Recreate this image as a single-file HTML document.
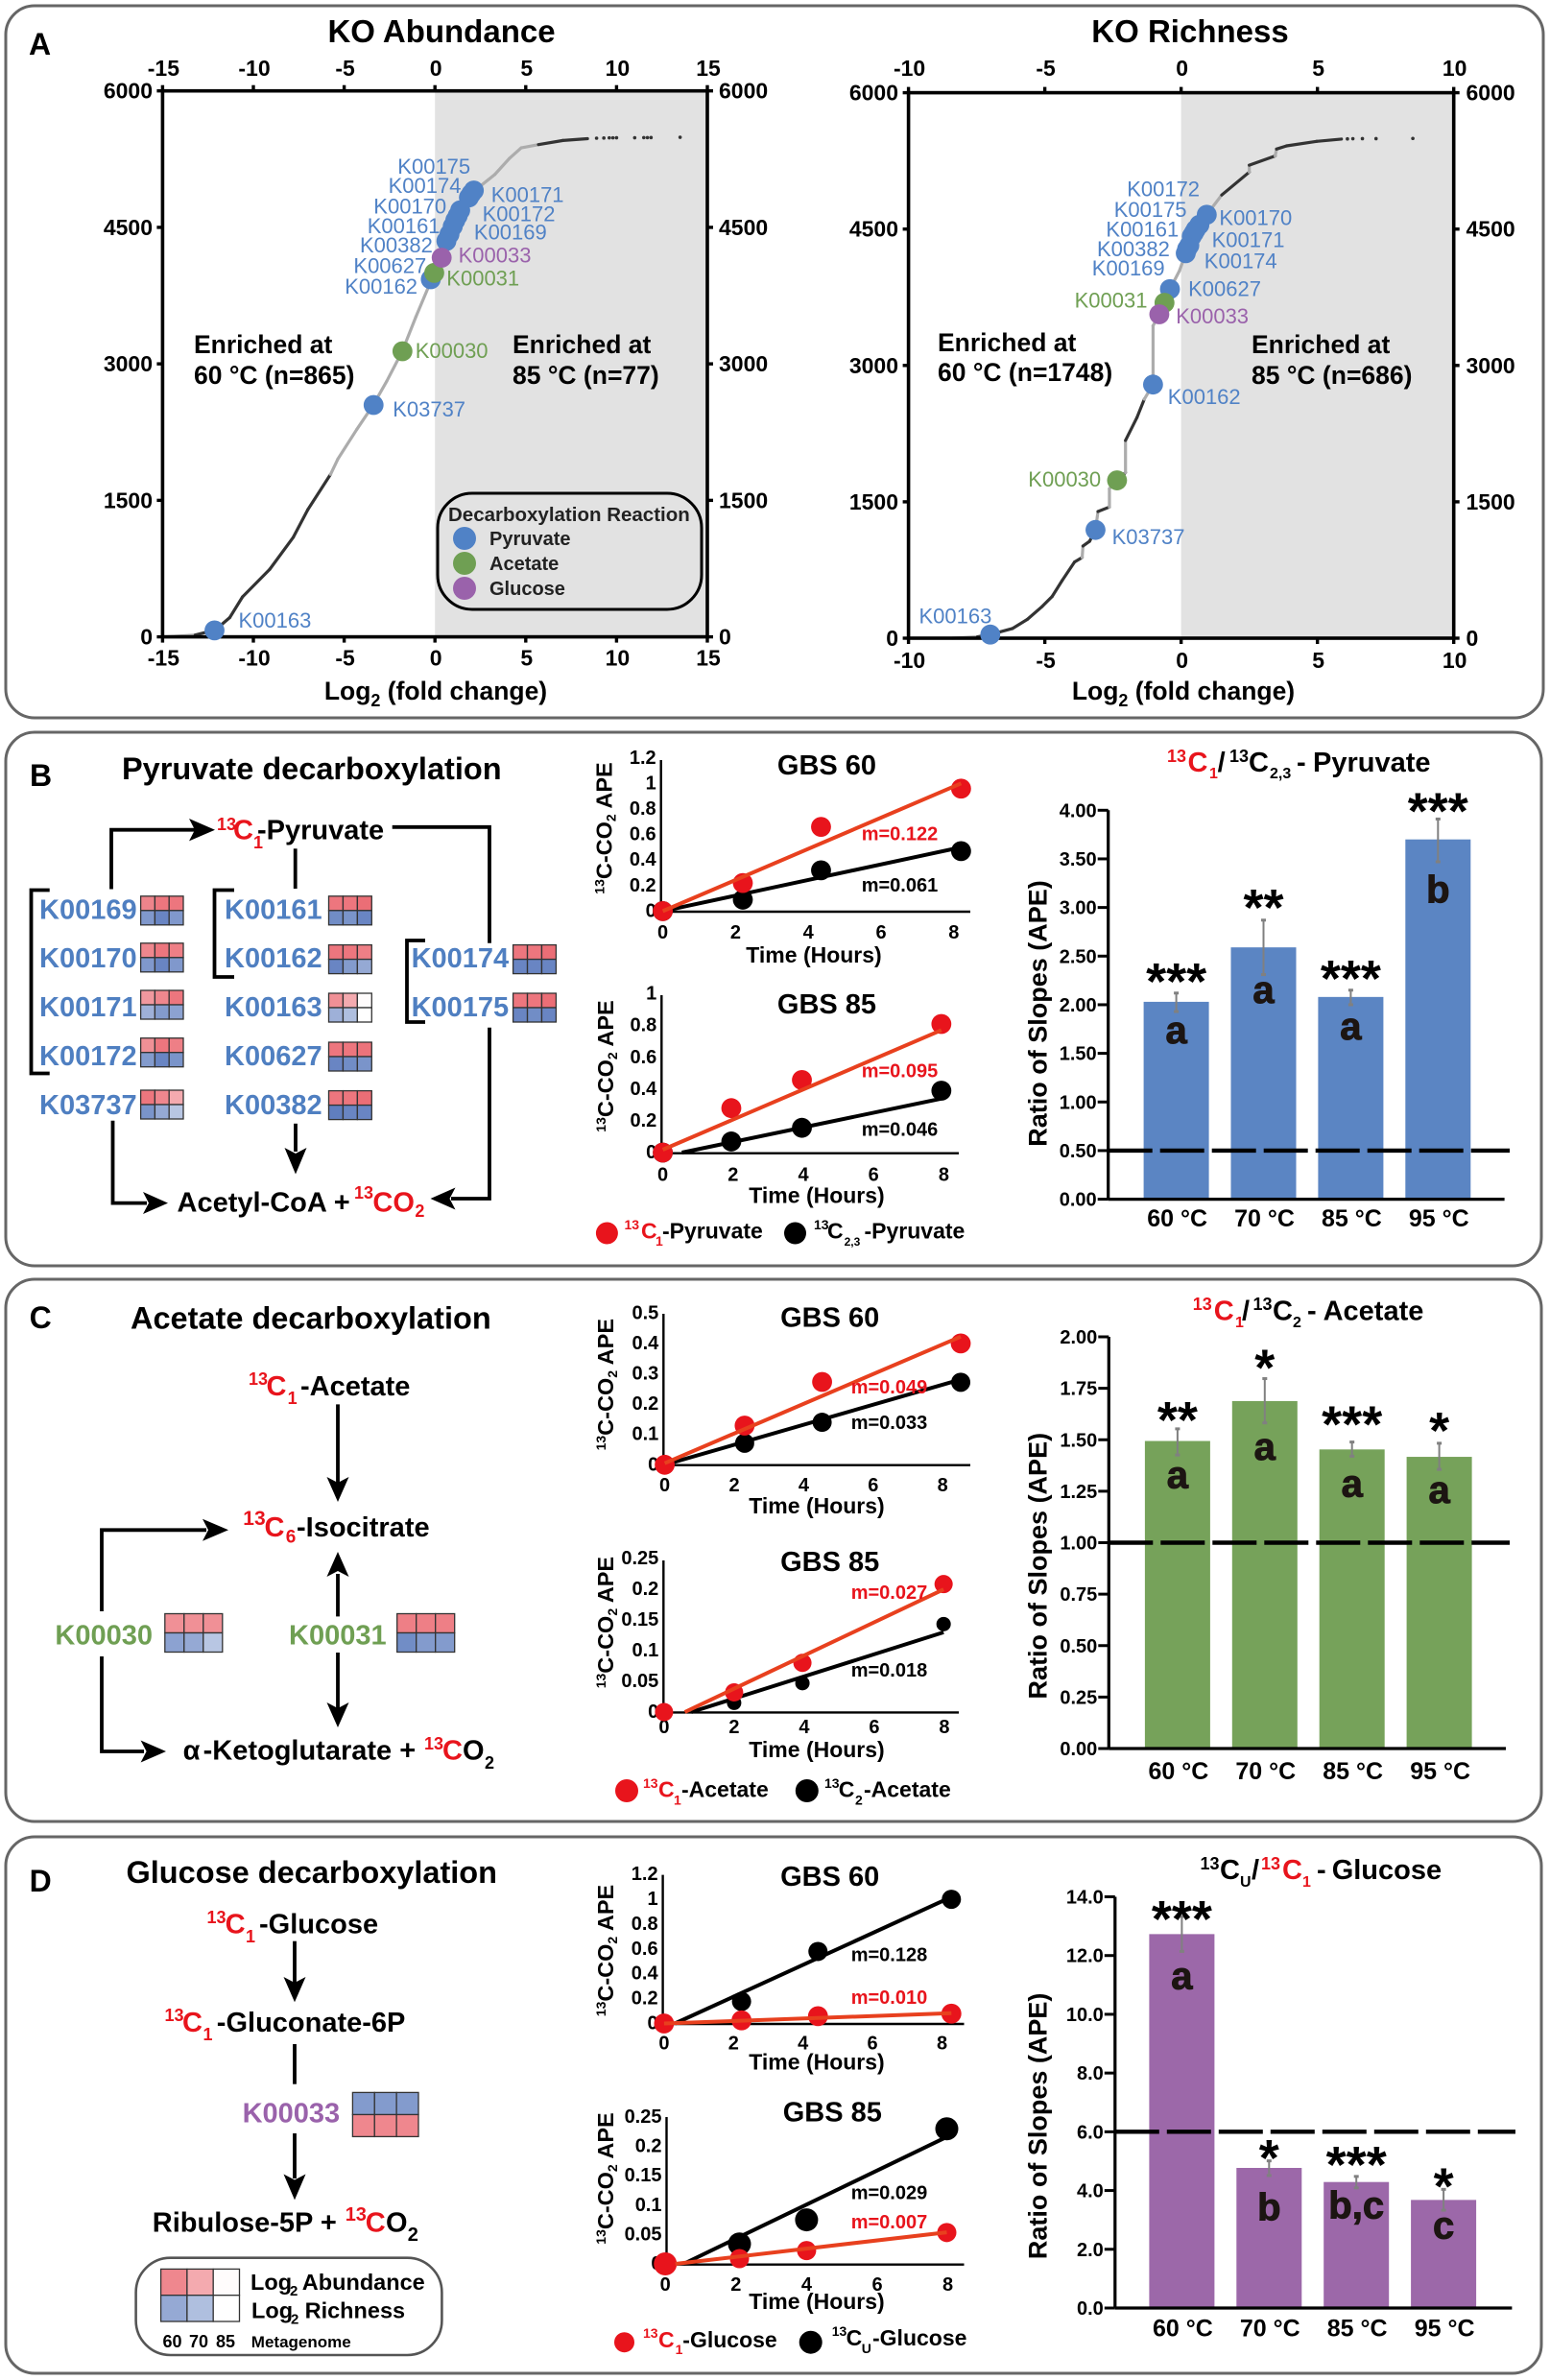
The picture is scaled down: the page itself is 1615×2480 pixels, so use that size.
<!DOCTYPE html>
<html lang="en">
<head>
<meta charset="utf-8">
<title>Decarboxylation KO enrichment and isotope ratios</title>
<style>
html,body{margin:0;padding:0;background:#fff}
svg{display:block;font-family:"Liberation Sans",sans-serif}
.frame{fill:none;stroke:#666;stroke-width:3}
.b{font-weight:bold}
.pw{fill:none;stroke:#000;stroke-width:3.8}
.gene-b{font-weight:bold;font-size:29px;fill:#4f7fc1}
.gene-g{font-weight:bold;font-size:29px;fill:#6f9f53}
.gene-p{font-weight:bold;font-size:29px;fill:#9a62ab}
.r{fill:#e8141c}
</style>
</head>
<body>
<svg id="root" width="1615" height="2480" viewBox="0 0 1615 2480">
<rect width="1615" height="2480" fill="#fff"/>

<g>
<rect class="frame" x="6" y="6" width="1602" height="742" rx="30"/>
<text class="b" x="30" y="57" font-size="32">A</text>
<g id="plots-a"></g>
</g>

<g>
<rect class="frame" x="6" y="763" width="1600" height="556" rx="30"/>
<text class="b" x="31" y="819" font-size="32">B</text>
<text class="b" x="127" y="812" font-size="32.5">Pyruvate decarboxylation</text>
<text class="b" font-size="29"><tspan class="r" x="226" y="865" font-size="18">13</tspan><tspan class="r" x="243" y="874.5">C</tspan><tspan class="r" x="264" y="884" font-size="18">1</tspan><tspan x="268" y="874.5">-Pyruvate</tspan></text>
<path class="pw" d="M116 926.5V864.7H205"/>
<polygon points="224,864.7 197,853 203,864.7 197,876.4"/>
<path class="pw" d="M307.7 884.3V926"/>
<path class="pw" d="M408.7 861.8H510V982.8"/>
<path class="pw" d="M510 1070.8V1249H470"/>
<polygon points="448.5,1249 474.5,1237.5 468.5,1249 474.5,1260.5"/>
<path class="pw" d="M117.5 1167.8V1253.6H153"/>
<polygon points="175,1253.6 149,1242 155,1253.6 149,1265"/>
<path class="pw" d="M308 1170.8V1200"/>
<polygon points="308,1223.5 296.5,1196 308,1202 319.5,1196"/>
<path class="pw" d="M51.7 927.5H32.5V1118.5H51.7"/>
<path class="pw" d="M244 927.5H223.5V1018H244"/>
<path class="pw" stroke-width="3" d="M443 980H424V1065H443"/>
<text class="gene-b" x="41" y="957.4">K00169</text>
<text class="gene-b" x="41" y="1008">K00170</text>
<text class="gene-b" x="41" y="1059">K00171</text>
<text class="gene-b" x="41" y="1110">K00172</text>
<text class="gene-b" x="41" y="1161">K03737</text>
<text class="gene-b" x="234" y="957.4">K00161</text>
<text class="gene-b" x="234" y="1008">K00162</text>
<text class="gene-b" x="234" y="1059">K00163</text>
<text class="gene-b" x="234" y="1110">K00627</text>
<text class="gene-b" x="234" y="1161">K00382</text>
<text class="gene-b" x="428.6" y="1008">K00174</text>
<text class="gene-b" x="428.6" y="1059">K00175</text>
<text class="b" font-size="29"><tspan x="184.5" y="1262.4">Acetyl-CoA +</tspan><tspan class="r" x="369" y="1249" font-size="18">13</tspan><tspan class="r" x="388.4" y="1262.4">CO</tspan><tspan class="r" x="432.4" y="1268" font-size="18">2</tspan></text>
<g>
<circle class="r" cx="632.4" cy="1285" r="11.5"/>
<text class="b" font-size="23"><tspan class="r" x="650.5" y="1281" font-size="14">13</tspan><tspan class="r" x="668" y="1290.7">C</tspan><tspan class="r" x="683" y="1298" font-size="14">1</tspan><tspan x="690" y="1290.7">-Pyruvate</tspan></text>
<circle cx="828.5" cy="1285" r="11.5"/>
<text class="b" font-size="23"><tspan x="848" y="1281" font-size="14">13</tspan><tspan x="862" y="1290.7">C</tspan><tspan x="879.6" y="1298" font-size="12">2,3</tspan><tspan x="900.5" y="1290.7">-Pyruvate</tspan></text>
</g>
<text class="b" font-size="29"><tspan class="r" x="1216" y="794" font-size="18">13</tspan><tspan class="r" x="1237.5" y="804">C</tspan><tspan class="r" x="1260" y="811" font-size="16">1</tspan><tspan x="1268.6" y="804">/</tspan><tspan x="1281" y="794" font-size="18">13</tspan><tspan x="1301" y="804">C</tspan><tspan x="1323" y="811" font-size="16">2,3</tspan><tspan x="1351" y="804">-</tspan><tspan x="1368" y="804">Pyruvate</tspan></text>
</g>

<g>
<rect class="frame" x="6" y="1333" width="1600" height="565" rx="30"/>
<text class="b" x="30.6" y="1384" font-size="32">C</text>
<text class="b" x="136" y="1384.5" font-size="32.5">Acetate decarboxylation</text>
<text class="b" font-size="29"><tspan class="r" x="259" y="1443" font-size="18">13</tspan><tspan class="r" x="277.5" y="1454">C</tspan><tspan class="r" x="299.6" y="1463" font-size="18">1</tspan><tspan x="313" y="1454">-Acetate</tspan></text>
<path class="pw" d="M352 1463.4V1545"/>
<polygon points="352,1565 340.5,1539 352,1545 363.5,1539"/>
<text class="b" font-size="29"><tspan class="r" x="253.3" y="1589" font-size="21">13</tspan><tspan class="r" x="275.5" y="1600.8">C</tspan><tspan class="r" x="297.7" y="1607.5" font-size="19">6</tspan><tspan x="309" y="1600.8">-Isocitrate</tspan></text>
<path class="pw" d="M106 1679V1594.3H215"/>
<polygon points="238,1594.3 211,1582.8 217,1594.3 211,1605.8"/>
<path class="pw" d="M352 1684.4V1640"/>
<polygon points="352,1617 340.5,1643 352,1637 363.5,1643"/>
<path class="pw" d="M106 1726V1825H150"/>
<polygon points="173,1825 146.6,1813.5 152.6,1825 146.6,1836.5"/>
<path class="pw" d="M352 1722V1780"/>
<polygon points="352,1800 340.5,1774 352,1780 363.5,1774"/>
<text class="gene-g" x="57.4" y="1713.5">K00030</text>
<text class="gene-g" x="301" y="1713.5">K00031</text>
<text class="b" font-size="29"><tspan x="190.6" y="1833.5">α</tspan><tspan x="211.6" y="1833.5">-Ketoglutarate +</tspan><tspan class="r" x="442" y="1823" font-size="18">13</tspan><tspan class="r" x="461" y="1833.5">C</tspan><tspan x="482" y="1833.5">O</tspan><tspan x="505" y="1843" font-size="18">2</tspan></text>
<g>
<circle class="r" cx="653" cy="1866" r="12"/>
<text class="b" font-size="23"><tspan class="r" x="670" y="1863" font-size="14">13</tspan><tspan class="r" x="686" y="1872.7">C</tspan><tspan class="r" x="702" y="1880.7" font-size="14">1</tspan><tspan x="710" y="1872.7">-Acetate</tspan></text>
<circle cx="840.8" cy="1866" r="12"/>
<text class="b" font-size="23"><tspan x="859" y="1863" font-size="14">13</tspan><tspan x="873.8" y="1872.7">C</tspan><tspan x="891" y="1880.7" font-size="14">2</tspan><tspan x="900" y="1872.7">-Acetate</tspan></text>
</g>
<text class="b" font-size="29"><tspan class="r" x="1242.7" y="1365" font-size="18">13</tspan><tspan class="r" x="1264.7" y="1375.5">C</tspan><tspan class="r" x="1287" y="1383" font-size="16">1</tspan><tspan x="1294" y="1375.5">/</tspan><tspan x="1305.5" y="1365" font-size="18">13</tspan><tspan x="1326" y="1375.5">C</tspan><tspan x="1347" y="1383" font-size="16">2</tspan><tspan x="1362" y="1375.5">-</tspan><tspan x="1378.6" y="1375.5">Acetate</tspan></text>
</g>

<g>
<rect class="frame" x="6" y="1914" width="1600" height="559" rx="30"/>
<text class="b" x="30.6" y="1971" font-size="32">D</text>
<text class="b" x="131.5" y="1962" font-size="32.5">Glucose decarboxylation</text>
<text class="b" font-size="29"><tspan class="r" x="215.5" y="2004" font-size="18">13</tspan><tspan class="r" x="234.6" y="2014.7">C</tspan><tspan class="r" x="256" y="2024" font-size="18">1</tspan><tspan x="270" y="2014.7">-Glucose</tspan></text>
<path class="pw" d="M307 2022.7V2066"/>
<polygon points="307,2086.3 295.5,2060 307,2066 318.5,2060"/>
<text class="b" font-size="29"><tspan class="r" x="171.5" y="2106" font-size="18">13</tspan><tspan class="r" x="190" y="2117">C</tspan><tspan class="r" x="211.5" y="2126" font-size="18">1</tspan><tspan x="225.8" y="2117">-Gluconate-6P</tspan></text>
<path class="pw" d="M307 2130V2171.7"/>
<text class="gene-p" x="252.6" y="2211.7">K00033</text>
<path class="pw" d="M307 2223V2270"/>
<polygon points="307,2292.4 295.5,2265.5 307,2271.5 318.5,2265.5"/>
<text class="b" font-size="29"><tspan x="158.8" y="2325.5">Ribulose-5P +</tspan><tspan class="r" x="359.7" y="2314" font-size="20">13</tspan><tspan class="r" x="380.8" y="2325.5">C</tspan><tspan x="402" y="2325.5">O</tspan><tspan x="424.8" y="2335" font-size="20">2</tspan></text>
<rect x="141.6" y="2352.7" width="318.8" height="101.3" rx="36" fill="none" stroke="#555" stroke-width="2.6"/>
<text class="b" font-size="23.5"><tspan x="261" y="2386">Log</tspan><tspan x="302" y="2392" font-size="15">2</tspan><tspan x="314.8" y="2386">Abundance</tspan></text>
<text class="b" font-size="23.5"><tspan x="262" y="2415.3">Log</tspan><tspan x="303" y="2421.5" font-size="15">2</tspan><tspan x="317.6" y="2415.3">Richness</tspan></text>
<text class="b" x="169.5" y="2446" font-size="18">60</text>
<text class="b" x="197" y="2446" font-size="18">70</text>
<text class="b" x="225" y="2446" font-size="18">85</text>
<text class="b" x="261.8" y="2446" font-size="17">Metagenome</text>
<g>
<circle class="r" cx="650.5" cy="2440.7" r="10.5"/>
<text class="b" font-size="23"><tspan class="r" x="670" y="2436" font-size="14">13</tspan><tspan class="r" x="686" y="2446">C</tspan><tspan class="r" x="703.6" y="2453" font-size="14">1</tspan><tspan x="711.3" y="2446">-Glucose</tspan></text>
<circle cx="844.7" cy="2440.7" r="12"/>
<text class="b" font-size="23"><tspan x="866.7" y="2434" font-size="14">13</tspan><tspan x="881.6" y="2444">C</tspan><tspan x="897.7" y="2452" font-size="14">U</tspan><tspan x="909" y="2444">-Glucose</tspan></text>
</g>
<text class="b" font-size="29"><tspan x="1250.5" y="1948" font-size="18">13</tspan><tspan x="1271" y="1958">C</tspan><tspan x="1292" y="1966" font-size="16">U</tspan><tspan x="1304" y="1958">/</tspan><tspan class="r" x="1314" y="1948" font-size="18">13</tspan><tspan class="r" x="1336" y="1958">C</tspan><tspan class="r" x="1357" y="1966" font-size="16">1</tspan><tspan x="1372" y="1958">-</tspan><tspan x="1387.7" y="1958">Glucose</tspan></text>
</g>

<g id="tiles"></g>
<g id="time-charts"></g>
<g id="bar-charts"></g>
</svg>

<script>
// ---------- KO rank curves (panel A) ----------
const abundanceFold = [-14.8,-13.2,-12.1,-11.3,-10.6,-9.1,-7.8,-7.0,-5.75,-5.35,-4.3,-3.4,-2.65,-1.8,-1.05,-0.2,0.85,1.65,2.2,3.3,4.1,4.75,5.7,7.05,8.4];
const abundanceRank = [0,20,75,212,439,742,1095,1398,1786,1953,2281,2548,2811,3139,3517,3921,4425,4779,4905,5082,5258,5374,5410,5455,5475];
const abundanceSignificant = [0,1,1,1,1,1,1,1,0,0,0,0,0,0,0,0,0,0,0,0,0,0,1,1];
const abundanceTailFold = [8.9,9.3,9.6,9.8,10,11,11.5,11.7,11.9,13.5];
const abundanceTailRank = [5480,5482,5484,5484,5485,5485,5486,5486,5487,5490];
const abundanceKoIds = ['K00163','K03737','K00162','K00627','K00382','K00161','K00170','K00169','K00172','K00174','K00175','K00171','K00030','K00031','K00033'];
const abundanceKoFold = [-12.14,-3.38,-0.23,0.63,0.8,0.98,1.12,1.25,1.39,1.87,2.0,2.14,-1.79,-0.04,0.37];
const abundanceKoRank = [71,2548,3930,4350,4425,4511,4577,4627,4688,4829,4870,4905,3139,4000,4167];

const richnessFold = [-8.39,-7.47,-7.0,-6.19,-5.64,-5.1,-4.73,-4.36,-3.91,-3.63,-3.6,-3.36,-3.14,-3.05,-2.63,-2.63,-2.35,-2.04,-2.04,-1.62,-1.35,-1.03,-1.03,-0.8,-0.61,-0.41,-0.06,0.17,0.58,0.94,1.49,2.5,2.5,3.45,3.5,3.87,4.97,5.88];
const richnessRank = [0,15,40,106,207,348,459,636,838,888,1014,1065,1191,1393,1443,1645,1736,1822,2175,2427,2629,2790,3436,3563,3689,3840,4042,4234,4471,4658,4875,5127,5203,5304,5380,5415,5465,5490];
const richnessSignificant = [0,1,1,1,1,1,1,1,1,0,1,1,0,1,0,0,1,0,1,1,0,0,0,0,0,0,0,0,0,0,1,0,1,0,1,1,1];
const richnessTailFold = [6.1,6.3,6.65,7.15,8.5];
const richnessTailRank = [5492,5494,5495,5495,5497];
const richnessKoIds = ['K00163','K03737','K00162','K00627','K00169','K00382','K00174','K00161','K00171','K00175','K00172','K00170','K00030','K00031','K00033'];
const richnessKoFold = [-7.0,-3.14,-1.03,-0.41,0.17,0.22,0.3,0.39,0.47,0.54,0.67,0.94,-2.35,-0.61,-0.8];
const richnessKoRank = [40,1191,2790,3840,4234,4280,4320,4420,4460,4496,4547,4658,1736,3689,3563];

const abundanceXTicks = [-15,-10,-5,0,5,10,15];
const richnessXTicks = [-10,-5,0,5,10];
const rankTicks = [0,1500,3000,4500,6000];
const pathwayKinds = ['Pyruvate','Acetate','Glucose'];

// ---------- Gene heat tiles ----------
const tileGeneIds = ['K00169','K00170','K00171','K00172','K03737','K00161','K00162','K00163','K00627','K00382','K00174','K00175','K00030','K00031','K00033','key'];
const tileAbundance = [[.72,.8,.8],[.7,.8,.75],[.6,.7,.8],[.65,.8,.75],[.8,.7,.5],[.8,.8,.85],[.8,.8,.75],[.65,.5,.02],[.8,.8,.82],[.8,.8,.85],[.8,.8,.85],[.8,.8,.85],[.65,.65,.65],[.75,.75,.75],[.7,.7,.7],[.7,.5,.02]];
const tileRichness = [[.72,.85,.72],[.72,.85,.72],[.55,.7,.65],[.7,.85,.75],[.75,.6,.4],[.8,.75,.85],[.85,.7,.6],[.55,.45,0],[.85,.8,.75],[.9,.85,.85],[.85,.85,.85],[.85,.8,.85],[.65,.6,.4],[.8,.7,.7],[.7,.7,.7],[.6,.45,0]];

// ---------- Time courses ----------
const timeLabelsEven = ['0','2','4','6','8'];
const timeTicks = [0,2,4,6,8];
const apeTicks12 = [0,.2,.4,.6,.8,1,1.2];
const apeLabels12 = ['0','0.2','0.4','0.6','0.8','1','1.2'];
const apeTicks10 = [0,.2,.4,.6,.8,1];
const apeLabels10 = ['0','0.2','0.4','0.6','0.8','1'];
const apeTicks05 = [0,.1,.2,.3,.4,.5];
const apeLabels05 = ['0','0.1','0.2','0.3','0.4','0.5'];
const apeTicks025 = [0,.05,.1,.15,.2,.25];
const apeLabels025 = ['0','0.05','0.1','0.15','0.2','0.25'];

const pyr60Time = [0,2.2,4.35,8.2];
const pyr60Red = [0,.22,.66,.96];
const pyr60Black = [0,.09,.32,.47];
const pyr85Time = [0,1.95,3.96,7.93];
const pyr85Red = [0,.28,.457,.81];
const pyr85Black = [0,.07,.156,.39];
const ace60Time = [0,2.3,4.53,8.52];
const ace60Red = [0,.129,.273,.4];
const ace60Black = [0,.071,.14,.272];
const ace85Time = [0,2,3.95,7.98];
const ace85Red = [0,.032,.08,.208];
const ace85Black = [0,.015,.047,.143];
const glu60Time = [0,2.23,4.43,8.27];
const glu60Red = [0,.025,.059,.079];
const glu60Black = [0,.177,.58,1.0];
const glu85Time = [0,2.1,4,7.97];
const glu85Red = [0,.009,.0226,.0534];
const glu85Black = [0,.034,.075,.23];

const slopesRed = [.122,.095,.049,.027,.010,.007];
const slopesBlack = [.061,.046,.033,.018,.128,.029];
const interceptsRed = [0,.018,.005,-.016,0,-.002];
const interceptsBlack = [0,-.025,0,-.014,-.04,-.015];

// ---------- Slope-ratio bars ----------
const temperatures = ['60 °C','70 °C','85 °C','95 °C'];
const pyruvateRatio = [2.03,2.59,2.08,3.7];
const pyruvateErrHigh = [2.12,2.87,2.15,3.91];
const pyruvateErrLow = [1.93,2.31,2.0,3.47];
const pyruvateStars = ['***','**','***','***'];
const pyruvateLetters = ['a','a','a','b'];
const pyruvateTicks = [0,.5,1,1.5,2,2.5,3,3.5,4];
const pyruvateTickLabels = ['0.00','0.50','1.00','1.50','2.00','2.50','3.00','3.50','4.00'];
const acetateRatio = [1.494,1.688,1.453,1.417];
const acetateErrHigh = [1.553,1.797,1.489,1.483];
const acetateErrLow = [1.426,1.582,1.42,1.356];
const acetateStars = ['**','*','***','*'];
const acetateLetters = ['a','a','a','a'];
const acetateTicks = [0,.25,.5,.75,1,1.25,1.5,1.75,2];
const acetateTickLabels = ['0.00','0.25','0.50','0.75','1.00','1.25','1.50','1.75','2.00'];
const glucoseRatio = [12.73,4.77,4.29,3.68];
const glucoseErrHigh = [13.33,5.01,4.48,4.04];
const glucoseErrLow = [12.14,4.51,4.09,3.33];
const glucoseStars = ['***','*','***','*'];
const glucoseLetters = ['a','b','b,c','c'];
const glucoseTicks = [0,2,4,6,8,10,12,14];
const glucoseTickLabels = ['0.0','2.0','4.0','6.0','8.0','10.0','12.0','14.0'];

// ---------- Layout (pixels, separate from the data) ----------
const root = document.getElementById('root');
const NS = root.namespaceURI;
const KO_BLUE = '#5082c6', KO_GREEN = '#6f9f53', KO_PURPLE = '#9a62ab';

function mk(tag, parent, attrs, text) {
  const n = document.createElementNS(NS, tag);
  for (const k in attrs) n.setAttribute(k, attrs[k]);
  if (text !== undefined) n.textContent = text;
  parent.appendChild(n);
  return n;
}
function linear(d0, d1, r0, r1) {
  return v => r0 + (v - d0) * (r1 - r0) / (d1 - d0);
}
function kindColor(id) {
  if (id === 'K00030' || id === 'K00031') return KO_GREEN;
  if (id === 'K00033') return KO_PURPLE;
  return KO_BLUE;
}

const abundanceLabelPos = {K00175:[414.3,180.8],K00174:[404.6,200.9],K00170:[389.3,222.4],K00161:[382.7,243],K00382:[375,263],K00627:[368.4,284.6],K00162:[359.2,306],K00171:[511.7,210.5],K00172:[502.6,230.5],K00169:[493.9,249.7],K00033:[477.6,273.6],K00031:[465.3,297.5],K00030:[432.7,373],K03737:[409.2,433.8],K00163:[248.5,653.8]};
const richnessLabelPos = {K00172:[1174.2,204.7],K00175:[1160.7,225.8],K00161:[1152.4,246.3],K00382:[1143,266.9],K00169:[1137.8,287],K00170:[1270.4,234.4],K00171:[1262.6,257.3],K00174:[1254.8,279.3],K00627:[1238.1,308.5],K00031:[1119.6,320.5],K00033:[1225.2,337.2],K00162:[1216.8,420.9],K00030:[1071.3,507],K03737:[1158.6,566.8],K00163:[957.5,649.5]};

function drawRankPlot(c) {
  const g = mk('g', document.getElementById('plots-a'), {});
  
  
  const sx = linear(c.xMin, c.xMax, c.left, c.right);
  const sy = linear(0, 6000, c.bottom, c.top);
  let el;

  el = mk('rect', g, {x: sx(0), y: c.top, width: c.right - sx(0), height: c.bottom - c.top, fill: '#e2e2e2'});
  
  

  el = mk('text', g, {x: c.titleX, y: 44, 'font-size': 33, 'font-weight': 'bold', 'text-anchor': 'middle'}, c.title);
  
  

  for (let i = 0; i < c.fold.length - 1; i++) {
    el = mk('line', g, {x1: sx(c.fold[i]), y1: sy(c.rank[i]), x2: sx(c.fold[i+1]), y2: sy(c.rank[i+1]), stroke: c.sig[i] ? '#333' : '#acacac', 'stroke-width': 3.2, 'stroke-linecap': 'round'});
    
    
  }
  c.tailFold.forEach((f, i) => {
    el = mk('circle', g, {cx: sx(f), cy: sy(c.tailRank[i]), r: 1.8, fill: '#333'});
    
    
  });

  el = mk('rect', g, {x: c.left, y: c.top, width: c.right - c.left, height: c.bottom - c.top, fill: 'none', stroke: '#000', 'stroke-width': 3.6});
  
  

  c.xTicks.forEach(t => {
    el = mk('line', g, {x1: sx(t), x2: sx(t), y1: c.top - 6, y2: c.top, stroke: '#000', 'stroke-width': 3.4});
    
    
    el = mk('line', g, {x1: sx(t), x2: sx(t), y1: c.bottom, y2: c.bottom + 6, stroke: '#000', 'stroke-width': 3.4});
    
    
    el = mk('text', g, {x: sx(t) + 1, y: 79, 'font-size': 23, 'font-weight': 'bold', 'text-anchor': 'middle'}, String(t));
    
    
    el = mk('text', g, {x: sx(t) + 1, y: c.tickBase, 'font-size': 23, 'font-weight': 'bold', 'text-anchor': 'middle'}, String(t));
    
    
  });
  rankTicks.forEach(t => {
    el = mk('line', g, {x1: c.left - 6, x2: c.left, y1: sy(t), y2: sy(t), stroke: '#000', 'stroke-width': 3.4});
    
    
    el = mk('line', g, {x1: c.right, x2: c.right + 6, y1: sy(t), y2: sy(t), stroke: '#000', 'stroke-width': 3.4});
    
    
    el = mk('text', g, {x: c.yLabelLeft, y: sy(t) + 8, 'font-size': 23, 'font-weight': 'bold', 'text-anchor': 'end'}, String(t));
    
    
    el = mk('text', g, {x: c.yLabelRight, y: sy(t) + 8, 'font-size': 23, 'font-weight': 'bold'}, String(t));
    
    
  });

  c.ids.forEach((id, i) => {
    el = mk('circle', g, {cx: sx(c.koFold[i]), cy: sy(c.koRank[i]), r: 10.4, fill: kindColor(id)});
    
    
    const p = c.labelPos[id];
    el = mk('text', g, {x: p[0], y: p[1], 'font-size': 22, fill: kindColor(id)}, id);
    
    
  });

  el = mk('text', g, {'font-size': 26.5, 'font-weight': 'bold'});
  el.innerHTML = '<tspan x="' + c.enrichL[0] + '" y="' + c.enrichL[1] + '">Enriched at</tspan><tspan x="' + c.enrichL[0] + '" y="' + c.enrichL[2] + '">' + c.enrichLText + '</tspan>';
  
  
  el = mk('text', g, {'font-size': 26.5, 'font-weight': 'bold'});
  el.innerHTML = '<tspan x="' + c.enrichR[0] + '" y="' + c.enrichR[1] + '">Enriched at</tspan><tspan x="' + c.enrichR[0] + '" y="' + c.enrichR[2] + '">' + c.enrichRText + '</tspan>';
  
  

  el = mk('text', g, {x: c.xTitleX, y: 729, 'font-size': 26.5, 'font-weight': 'bold', 'text-anchor': 'middle'});
  el.innerHTML = 'Log<tspan font-size="18" dy="7">2</tspan><tspan dy="-7"> (fold change)</tspan>';
  
  
}

drawRankPlot({name:'ko-abundance-plot', title:'KO Abundance', titleX:460, left:169.4, right:737, top:94.7, bottom:663.6, xMin:-15, xMax:15, xTicks:abundanceXTicks, tickBase:693.5, yLabelLeft:159, yLabelRight:749, fold:abundanceFold, rank:abundanceRank, sig:abundanceSignificant, tailFold:abundanceTailFold, tailRank:abundanceTailRank, ids:abundanceKoIds, koFold:abundanceKoFold, koRank:abundanceKoRank, labelPos:abundanceLabelPos, enrichL:[202,368,400], enrichLText:'60 °C (n=865)', enrichR:[534,368,400], enrichRText:'85 °C (n=77)', xTitleX:454});
drawRankPlot({name:'ko-richness-plot', title:'KO Richness', titleX:1240, left:946.6, right:1514.7, top:96.6, bottom:665, xMin:-10, xMax:10, xTicks:richnessXTicks, tickBase:696, yLabelLeft:936, yLabelRight:1527.5, fold:richnessFold, rank:richnessRank, sig:richnessSignificant, tailFold:richnessTailFold, tailRank:richnessTailRank, ids:richnessKoIds, koFold:richnessKoFold, koRank:richnessKoRank, labelPos:richnessLabelPos, enrichL:[977,366,397], enrichLText:'60 °C (n=1748)', enrichR:[1304,368,400], enrichRText:'85 °C (n=686)', xTitleX:1233});

// Decarboxylation legend (panel A)
(function () {
  const g = mk('g', document.getElementById('plots-a'), {});
  
  
  let el = mk('rect', g, {x: 456, y: 514, width: 275, height: 121, rx: 36, fill: 'none', stroke: '#000', 'stroke-width': 3});
  
  
  el = mk('text', g, {x: 467, y: 543, 'font-size': 20.5, 'font-weight': 'bold', fill: '#222'}, 'Decarboxylation Reaction');
  
  
  const colors = [KO_BLUE, KO_GREEN, KO_PURPLE];
  pathwayKinds.forEach((k, i) => {
    el = mk('circle', g, {cx: 484, cy: 561 + i * 26, r: 12, fill: colors[i]});
    
    
    el = mk('text', g, {x: 510, y: 568 + i * 26, 'font-size': 20, 'font-weight': 'bold', fill: '#222'}, k);
    
    
  });
})();

// Gene tiles
const tileBoxes = {K00169:[146.6,933.8,44.4,30],K00170:[146.6,982.8,44.4,30],K00171:[146.6,1032,44.4,30],K00172:[146.6,1081.7,44.4,30],K03737:[146.6,1136,44.4,30],K00161:[342.5,933.8,44.8,30],K00162:[342.5,984.6,44.8,30],K00163:[342.5,1035,44.8,30],K00627:[342.5,1086,44.8,30],K00382:[342.5,1136.6,44.8,30],K00174:[534.6,984.6,44.8,30],K00175:[534.6,1035,44.8,30],K00030:[171.8,1681.5,60,40],K00031:[413.7,1681.5,60,40],K00033:[367.4,2180.4,68.6,46],key:[167.6,2364.4,81.9,54.6]};
function heat(base, v) {
  const m = c => Math.round(255 + (c - 255) * v);
  return 'rgb(' + m(base[0]) + ',' + m(base[1]) + ',' + m(base[2]) + ')';
}
const RED_BASE = [232,84,94], BLUE_BASE = [78,112,184];
tileGeneIds.forEach((id, i) => {
  const b = tileBoxes[id];
  const g = mk('g', document.getElementById('tiles'), {});
  
  
  const cw = b[2] / 3, ch = b[3] / 2;
  const rowsFlip = id === 'K00033';
  for (let k = 0; k < 3; k++) {
    const a = mk('rect', g, {x: b[0] + k * cw, y: b[1] + (rowsFlip ? ch : 0), width: cw, height: ch, fill: heat(RED_BASE, tileAbundance[i][k]), stroke: '#333', 'stroke-width': 1.3});
    
    
    const r = mk('rect', g, {x: b[0] + k * cw, y: b[1] + (rowsFlip ? 0 : ch), width: cw, height: ch, fill: heat(BLUE_BASE, tileRichness[i][k]), stroke: '#333', 'stroke-width': 1.3});
    
    
  }
});

// Time-course mini charts
function drawTime(c) {
  const g = mk('g', document.getElementById('time-charts'), {});
  
  
  const sx = t => c.x0 + t * c.pxH;
  const sy = v => c.y0 - v * c.pxU;
  let el;
  el = mk('text', g, {x: c.titleX, y: c.titleY, 'font-size': 29, 'font-weight': 'bold', 'text-anchor': 'middle'}, c.title);
  
  
  el = mk('line', g, {x1: c.axisX, x2: c.axisX, y1: c.top, y2: c.axisY, stroke: '#000', 'stroke-width': 2.4});
  
  
  el = mk('line', g, {x1: c.axisX, x2: c.axisRight, y1: c.axisY, y2: c.axisY, stroke: '#000', 'stroke-width': 2.4});
  
  
  c.yTicks.forEach((t, i) => {
    el = mk('text', g, {x: c.axisX - 5, y: sy(t) + 6, 'font-size': 20, 'font-weight': 'bold', 'text-anchor': 'end'}, c.yLabels[i]);
    
    
  });
  timeTicks.forEach((t, i) => {
    el = mk('text', g, {x: sx(t), y: c.tickBase, 'font-size': 20, 'font-weight': 'bold', 'text-anchor': 'middle'}, timeLabelsEven[i]);
    
    
  });
  el = mk('text', g, {x: c.timeX, y: c.timeY, 'font-size': 23, 'font-weight': 'bold', 'text-anchor': 'middle'}, 'Time (Hours)');
  
  
  el = mk('text', g, {transform: 'translate(' + c.yTitleX + ' ' + c.yTitleY + ') rotate(-90)', 'font-size': 23.5, 'font-weight': 'bold', 'text-anchor': 'middle'});
  el.innerHTML = '<tspan font-size="14" dy="-8">13</tspan><tspan dy="8">C-CO</tspan><tspan font-size="14" dy="4">2</tspan><tspan dy="-4"> APE</tspan>';
  
  

  const drawSeries = (vals, slope, intercept, color, lineColor, r, key, originR) => {
    vals.forEach((v, i) => {
      el = mk('circle', g, {cx: sx(c.time[i]), cy: sy(v), r: i === 0 ? originR : r, fill: color});
      
      
    });
    const tEnd = c.time[c.time.length - 1];
    const tStart = intercept < 0 ? -intercept / slope : 0;
    el = mk('line', g, {x1: sx(tStart), y1: sy(slope * tStart + intercept), x2: sx(tEnd), y2: sy(slope * tEnd + intercept), stroke: lineColor, 'stroke-width': 4});
    
    
  };
  drawSeries(c.black, slopesBlack[c.idx], interceptsBlack[c.idx], '#000', '#000', c.rBlack, 'black', Math.min(c.rBlack, c.rRed));
  drawSeries(c.red, slopesRed[c.idx], interceptsRed[c.idx], '#e8141c', '#e8401e', c.rRed, 'red', Math.max(c.rBlack, c.rRed));

  el = mk('text', g, {x: c.mX, y: c.mRed, 'font-size': 20, 'font-weight': 'bold', fill: '#e8141c'}, 'm=' + slopesRed[c.idx].toFixed(3));
  
  
  el = mk('text', g, {x: c.mX, y: c.mBlack, 'font-size': 20, 'font-weight': 'bold'}, 'm=' + slopesBlack[c.idx].toFixed(3));
  
  
}
drawTime({idx:0,name:'pyruvate-gbs60-chart',title:'GBS 60',time:pyr60Time,red:pyr60Red,black:pyr60Black,yTicks:apeTicks12,yLabels:apeLabels12,axisX:688.7,x0:690.6,pxH:37.9,y0:949.4,pxU:133,top:792,axisY:950,axisRight:1011,tickBase:978,titleX:861.5,titleY:807,timeX:848,timeY:1003,yTitleX:637.5,yTitleY:863,mX:897.7,mRed:875.6,mBlack:929,rRed:10.4,rBlack:10.4});
drawTime({idx:1,name:'pyruvate-gbs85-chart',title:'GBS 85',time:pyr85Time,red:pyr85Red,black:pyr85Black,yTicks:apeTicks10,yLabels:apeLabels10,axisX:689.3,x0:690.6,pxH:36.6,y0:1201,pxU:165.4,top:1037,axisY:1201.7,axisRight:999,tickBase:1230.7,titleX:861.5,titleY:1056,timeX:851,timeY:1253.6,yTitleX:639,yTitleY:1111,mX:897.7,mRed:1122.4,mBlack:1183.5,rRed:10.4,rBlack:10.4});
drawTime({idx:2,name:'acetate-gbs60-chart',title:'GBS 60',time:ace60Time,red:ace60Red,black:ace60Black,yTicks:apeTicks05,yLabels:apeLabels05,axisX:691.3,x0:692.6,pxH:36.2,y0:1526.3,pxU:316,top:1369,axisY:1526.7,axisRight:1011,tickBase:1554,titleX:864.7,titleY:1382.7,timeX:851,timeY:1577,yTitleX:638.8,yTitleY:1442.7,mX:886.7,mRed:1451.8,mBlack:1489,rRed:10.4,rBlack:10});
drawTime({idx:3,name:'acetate-gbs85-chart',title:'GBS 85',time:ace85Time,red:ace85Red,black:ace85Black,yTicks:apeTicks025,yLabels:apeLabels025,axisX:691.3,x0:691.9,pxH:36.5,y0:1784,pxU:641,top:1626,axisY:1784.4,axisRight:999,tickBase:1806,titleX:864.7,titleY:1637,timeX:851,timeY:1831,yTitleX:638.8,yTitleY:1690.6,mX:886.7,mRed:1666,mBlack:1747,rRed:9.5,rBlack:7.5});
drawTime({idx:4,name:'glucose-gbs60-chart',title:'GBS 60',time:glu60Time,red:glu60Red,black:glu60Black,yTicks:apeTicks12,yLabels:apeLabels12,axisX:690.6,x0:691.9,pxH:36.2,y0:2108.5,pxU:129.4,top:1953.6,axisY:2109,axisRight:1004.5,tickBase:2135.4,titleX:864.7,titleY:1965,timeX:851,timeY:2156.5,yTitleX:638.8,yTitleY:2032.5,mX:886.7,mRed:2088,mBlack:2043.4,rRed:10.4,rBlack:10});
drawTime({idx:5,name:'glucose-gbs85-chart',title:'GBS 85',time:glu85Time,red:glu85Red,black:glu85Black,yTicks:apeTicks025,yLabels:apeLabels025,axisX:694.5,x0:693.2,pxH:36.8,y0:2359,pxU:612,top:2206,axisY:2359.7,axisRight:1004.5,tickBase:2387,titleX:867.3,titleY:2210.6,timeX:851,timeY:2406,yTitleX:638.8,yTitleY:2270,mX:886.7,mRed:2321.9,mBlack:2291.7,rRed:10,rBlack:12});

// Slope-ratio bar charts
function drawBars(c) {
  const g = mk('g', document.getElementById('bar-charts'), {});
  
  
  const sy = linear(0, c.yMax, c.y0, c.yTop);
  const step = 90.9, w = 68;
  let el;
  c.values.forEach((v, i) => {
    const x = c.barStart + i * step, cx = x + w / 2;
    el = mk('rect', g, {x: x, y: sy(v), width: w, height: c.y0 - sy(v), fill: c.color});
    
    
    el = mk('line', g, {x1: cx, x2: cx, y1: sy(c.errHigh[i]), y2: sy(c.errLow[i]), stroke: '#808080', 'stroke-width': 2});
    
    
    el = mk('rect', g, {x: cx - 2.5, y: sy(c.errHigh[i]) - 1.5, width: 5, height: 3, fill: '#808080'});
    
    
    el = mk('rect', g, {x: cx - 2.5, y: sy(c.errLow[i]) - 1.5, width: 5, height: 3, fill: '#808080'});
    
    
    el = mk('text', g, {x: cx, y: sy(c.errHigh[i]) - c.starGap[i] + 30, 'font-size': 54, 'font-weight': 'bold', 'text-anchor': 'middle'}, c.stars[i]);
    
    
    el = mk('text', g, {x: cx, y: sy(v) + c.letterGap[i], 'font-size': 40, 'font-weight': 'bold', fill: '#1c1512', stroke: '#1c1512', 'stroke-width': 1, 'text-anchor': 'middle'}, c.letters[i]);
    
    
    el = mk('text', g, {x: cx + 1, y: c.labelBase, 'font-size': 25, 'font-weight': 'bold', 'text-anchor': 'middle'}, temperatures[i]);
    
    
  });
  c.ticks.forEach((t, i) => {
    el = mk('line', g, {x1: c.axisX - 11, x2: c.axisX, y1: sy(t), y2: sy(t), stroke: '#000', 'stroke-width': 3});
    
    
    el = mk('text', g, {x: c.axisX - 12, y: sy(t) + 7, 'font-size': 20, 'font-weight': 'bold', 'text-anchor': 'end'}, c.tickLabels[i]);
    
    
  });
  el = mk('line', g, {x1: c.axisX, x2: c.axisX, y1: c.yTop, y2: c.y0, stroke: '#000', 'stroke-width': 3.2});
  
  
  el = mk('line', g, {x1: c.axisX, x2: c.right, y1: c.y0, y2: c.y0, stroke: '#000', 'stroke-width': 3.3});
  
  
  el = mk('line', g, {x1: c.axisX, x2: c.dashEnd, y1: sy(c.threshold), y2: sy(c.threshold), stroke: '#000', 'stroke-width': 4.4, 'stroke-dasharray': '46 8'});
  
  
  el = mk('text', g, {transform: 'translate(1090.6 ' + c.yTitleY + ') rotate(-90)', 'font-size': 27, 'font-weight': 'bold', 'text-anchor': 'middle'}, 'Ratio of Slopes (APE)');
  
  
}
drawBars({name:'pyruvate-ratio-bars',values:pyruvateRatio,errHigh:pyruvateErrHigh,errLow:pyruvateErrLow,stars:pyruvateStars,letters:pyruvateLetters,ticks:pyruvateTicks,tickLabels:pyruvateTickLabels,yMax:4,y0:1249.6,yTop:844.3,axisX:1154.7,right:1567.6,barStart:1191.6,labelBase:1278,threshold:.5,dashEnd:1573,color:'#5b85c3',starGap:[24,25,24,20],letterGap:[43,58,44,66],yTitleY:1056});
drawBars({name:'acetate-ratio-bars',values:acetateRatio,errHigh:acetateErrHigh,errLow:acetateErrLow,stars:acetateStars,letters:acetateLetters,ticks:acetateTicks,tickLabels:acetateTickLabels,yMax:2,y0:1822,yTop:1393,axisX:1155.3,right:1569,barStart:1192.9,labelBase:1854,threshold:1,dashEnd:1573,color:'#76a25a',starGap:[21,23,30,25],letterGap:[49,61,49,48],yTitleY:1631.7});
drawBars({name:'glucose-ratio-bars',values:glucoseRatio,errHigh:glucoseErrHigh,errLow:glucoseErrLow,stars:glucoseStars,letters:glucoseLetters,ticks:glucoseTicks,tickLabels:glucoseTickLabels,yMax:14,y0:2405,yTop:1976.5,axisX:1161.8,right:1575.4,barStart:1197.4,labelBase:2434.5,threshold:6,dashEnd:1579,color:'#9c68a9',starGap:[9,14.5,24,15],letterGap:[57,54.5,38,40],yTitleY:2215.4});
</script>
</body>
</html>
